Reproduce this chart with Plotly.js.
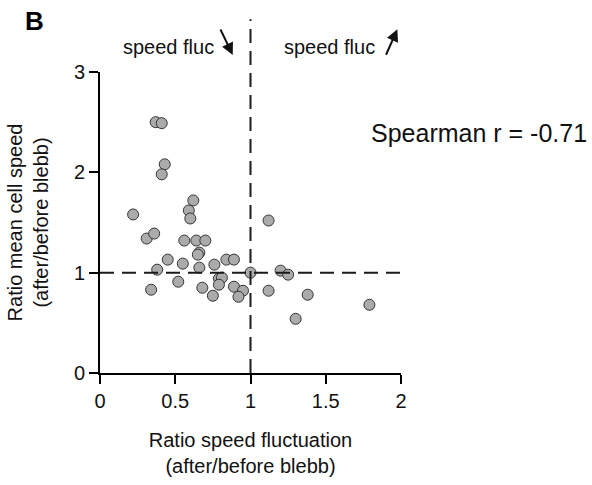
<!DOCTYPE html>
<html>
<head>
<meta charset="utf-8">
<script src="https://cdn.plot.ly/plotly-3.0.1.min.js"></script>
<style>html,body{margin:0;padding:0;background:#fff;}#chart{width:592px;height:485px;}</style>
</head>
<body>
<div id="chart"></div>
<script>
// Ratio speed fluctuation (after/before blebb)
const speedFluctRatio = [0.37, 0.41, 0.43, 0.41, 0.62, 0.59, 0.60, 0.22, 0.31, 0.36,
  0.56, 0.64, 0.70, 0.66, 0.65, 0.45, 0.38, 0.55, 0.66, 0.76,
  0.84, 0.89, 1.00, 0.52, 0.34, 0.68, 0.79, 0.81, 0.79, 0.75,
  0.89, 0.95, 0.92, 1.12, 1.20, 1.25, 1.12, 1.38, 1.79, 1.30];
// Ratio mean cell speed (after/before blebb)
const meanSpeedRatio = [2.50, 2.49, 2.08, 1.98, 1.72, 1.62, 1.54, 1.58, 1.34, 1.39,
  1.32, 1.32, 1.32, 1.20, 1.18, 1.13, 1.03, 1.09, 1.05, 1.08,
  1.13, 1.13, 1.00, 0.91, 0.83, 0.85, 0.94, 0.95, 0.88, 0.77,
  0.86, 0.82, 0.76, 1.52, 1.02, 0.98, 0.82, 0.78, 0.68, 0.54];
const xTicks = [0, 0.5, 1, 1.5, 2];
const xTickText = ['0', '0.5', '1', '1.5', '2'];
const yTicks = [0, 1, 2, 3];
const yTickText = ['0', '1', '2', '3'];
const refX = 1;
const refY = 1;
const spearmanText = 'Spearman r = -0.71';

const font = 'Arial, "Liberation Sans", Helvetica, sans-serif';

const trace = {
  x: speedFluctRatio,
  y: meanSpeedRatio,
  type: 'scatter',
  mode: 'markers',
  marker: {size: 11, color: '#ababab', line: {color: '#333333', width: 1}},
  hoverinfo: 'x+y',
  cliponaxis: false
};

const layout = {
  width: 592, height: 485,
  margin: {l: 100, r: 191, t: 72, b: 112},
  paper_bgcolor: '#ffffff', plot_bgcolor: '#ffffff',
  showlegend: false,
  font: {family: font, size: 20, color: '#111111'},
  xaxis: {
    range: [0, 2], tickvals: xTicks, ticktext: xTickText,
    showgrid: false, zeroline: false, showline: true, linecolor: '#000', linewidth: 2,
    ticks: 'outside', ticklen: 9, tickwidth: 2, tickcolor: '#000',
    tickfont: {size: 20, family: font},
    title: {text: 'Ratio speed fluctuation<br>(after/before blebb)', font: {size: 20, family: font}, standoff: 22},
    fixedrange: true
  },
  yaxis: {
    range: [0, 3], tickvals: yTicks, ticktext: yTickText,
    showgrid: false, zeroline: false, showline: true, linecolor: '#000', linewidth: 2,
    ticks: 'outside', ticklen: 9, tickwidth: 2, tickcolor: '#000',
    tickfont: {size: 20, family: font},
    title: {text: 'Ratio mean cell speed<br>(after/before blebb)', font: {size: 20, family: font}, standoff: 20},
    fixedrange: true
  },
  shapes: [
    {type: 'line', xref: 'x', yref: 'y', x0: 0, x1: 2, y0: refY, y1: refY,
     line: {color: '#1a1a1a', width: 2, dash: '14px,8px'}},
    {type: 'line', xref: 'x', yref: 'paper', x0: refX, x1: refX, y0: 0, y1: 1.175,
     line: {color: '#1a1a1a', width: 2, dash: '14px,8px'}}
  ],
  annotations: [
    {text: '<b>B</b>', xref: 'paper', yref: 'paper', x: -0.219, y: 1.169, xanchor: 'center', yanchor: 'middle',
     showarrow: false, font: {size: 26, family: font, color: '#000'}},
    {text: 'speed fluc', xref: 'paper', yref: 'paper', x: 0.229, y: 1.083, xanchor: 'center', yanchor: 'middle',
     showarrow: false, font: {size: 20, family: font, color: '#111'}},
    {text: 'speed fluc', xref: 'paper', yref: 'paper', x: 0.764, y: 1.083, xanchor: 'center', yanchor: 'middle',
     showarrow: false, font: {size: 20, family: font, color: '#111'}},
    {text: '', xref: 'paper', yref: 'paper', x: 0.441, y: 1.0565, axref: 'pixel', ayref: 'pixel', ax: -13, ay: -27,
     showarrow: true, arrowhead: 2, arrowsize: 1.2, arrowwidth: 2, arrowcolor: '#111'},
    {text: '', xref: 'paper', yref: 'paper', x: 0.988, y: 1.142, axref: 'pixel', ayref: 'pixel', ax: -12, ay: 27,
     showarrow: true, arrowhead: 2, arrowsize: 1.2, arrowwidth: 2, arrowcolor: '#111'},
    {text: spearmanText, xref: 'paper', yref: 'paper', x: 1.258, y: 0.797, xanchor: 'center', yanchor: 'middle',
     showarrow: false, font: {size: 25, family: font, color: '#111'}}
  ]
};

Plotly.newPlot('chart', [trace], layout, {displayModeBar: false, staticPlot: true});
</script>
</body>
</html>
